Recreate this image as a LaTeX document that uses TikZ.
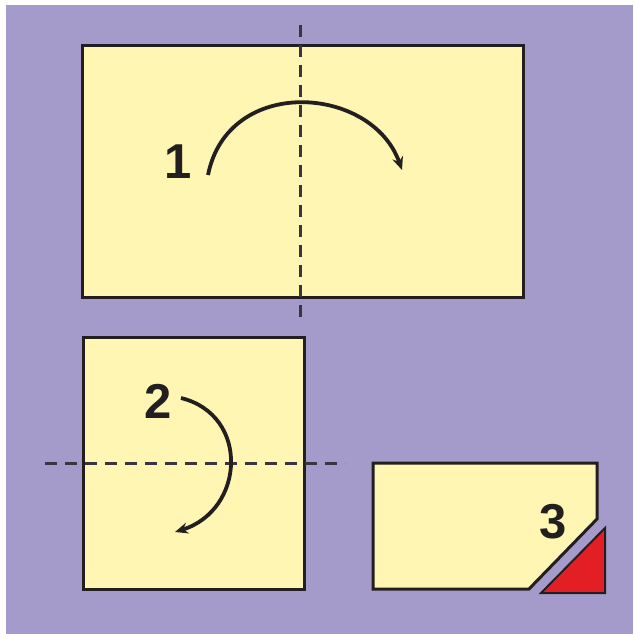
\documentclass[tikz,border=0pt]{standalone}
\usepackage{fontspec}
\setmainfont{Liberation Sans}
\usetikzlibrary{arrows.meta}
\definecolor{fdBg}{HTML}{A59BCB}
\definecolor{fdPaper}{HTML}{FFF6B4}
\definecolor{fdInk}{HTML}{231F20}
\definecolor{fdRed}{HTML}{E41E25}
\definecolor{fdFold}{HTML}{3A3540}

\begin{document}
\begin{tikzpicture}[x=1pt,y=-1pt,
  >={Stealth[length=13pt,width=11pt]},
  sheet/.style={fill=fdPaper,draw=fdInk,line width=3pt},
  foldline/.style={draw=fdFold,line width=3pt,dash pattern=on 12pt off 8pt},
  turn/.style={->,draw=fdInk,line width=3.8pt},
  stepnum/.style={font=\fontsize{49}{49}\selectfont\bfseries,text=fdInk,inner sep=0pt},
]
\useasboundingbox (0,0) rectangle (633,634);
\fill[fdBg] (6,5) rectangle (633,634);

% sheet 1 (fold in half, left over right)
\draw[sheet] (82,46) rectangle (523,297);
\coordinate (v1) at (300,25);
\coordinate (v2) at (300,323);
\draw[foldline] (v1) -- (v2);
\coordinate (a1s) at (208,175);
\coordinate (a1e) at (402,170);
\draw[turn] (a1s) .. controls (228,75) and (372,85) .. (a1e);
\node[stepnum] (one) at (178,162) {1};

% sheet 2 (fold again, top down)
\draw[sheet] (83,337) rectangle (304,589);
\coordinate (h1) at (45,463);
\coordinate (h2) at (345,463);
\draw[foldline] (h1) -- (h2);
\coordinate (a2s) at (181,398);
\coordinate (a2e) at (175,532);
\draw[turn] (a2s) .. controls (250,415) and (245,510) .. (a2e);
\node[stepnum] (two) at (158,401) {2};

% sheet 3 (cut off corner)
\draw[sheet] (373,463) -- (597,463) -- (597,519) -- (529,589) -- (373,589) -- cycle;
\draw[fill=fdRed,draw=fdInk,line width=2pt] (605,528) -- (605,593) -- (541,593) -- cycle;
\node[stepnum] (three) at (553,522) {3};
\end{tikzpicture}
\end{document}
